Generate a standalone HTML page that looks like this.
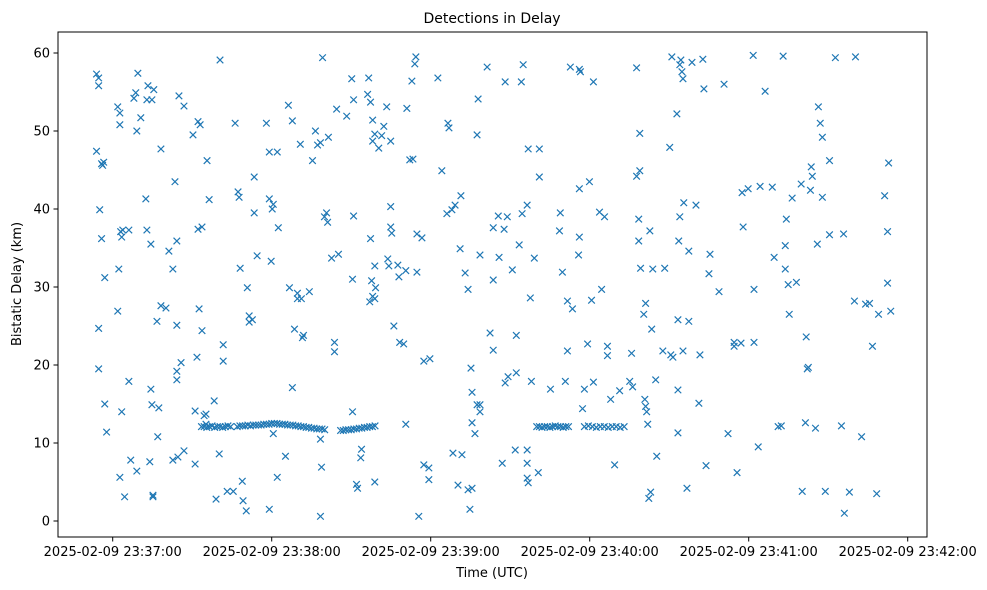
<!DOCTYPE html>
<html><head><meta charset="utf-8"><style>
body{margin:0;background:#fff;}
svg{display:block;font-family:"DejaVu Sans","Liberation Sans",sans-serif;}
</style></head><body>
<svg id="chart" width="987" height="590" viewBox="0 0 987 590">
<rect x="0" y="0" width="987" height="590" fill="#fff"/>
<text x="492" y="23" text-anchor="middle" font-size="14">Detections in Delay</text>
<g id="marks"></g>
<g id="xaxis"></g>
<g id="yaxis"></g>
<rect x="58" y="32" width="869" height="505" fill="none" stroke="#000" stroke-width="1"/>
<text x="492" y="577" text-anchor="middle" font-size="13">Time (UTC)</text>
<text transform="translate(21,284) rotate(-90)" text-anchor="middle" font-size="13">Bistatic Delay (km)</text>
</svg>
<script>
// seconds after 23:36:00 and bistatic delay (km)
const scatterTimes = [53.9,54.7,54.7,53.9,55.1,55.8,55.8,56.2,56.6,54.7,54.7,57,57,57.7,61.9,62.7,62.7,63,63.4,63.8,62.3,61.9,66.1,63.4,64.5,62.7,66.8,69.1,66.1,68,68.7,69.5,69.1,70.6,72.9,73.3,75.5,72.9,72.5,74.4,74.8,78.2,76.7,74.4,74.8,74,75.2,75.2,77,77.4,78.2,80.1,81.2,82.7,82.7,84.6,83.5,84.2,84.2,84.2,84.2,85,86.9,85.8,86.9,90.3,92.2,92.6,93,92.2,91.8,91.1,91.1,93.7,95.2,95.6,93.7,94.5,95.2,96.4,98.3,99,100.2,100.5,101.7,101.7,103.2,105.5,106.2,107.3,107.7,108.1,109.2,110.4,108.9,111.5,110.8,113.4,112.7,113.4,111.5,114.5,118,119.1,122.1,119.1,120.6,120.2,119.8,122.5,120.6,122.1,119.1,125.2,126.3,127.8,126.7,129.7,128.6,127.8,129.7,130.8,132,131.6,134.2,131.2,135.4,137.3,136.5,138.4,139.2,140.7,141.4,139.9,141.1,138.4,138.8,138.4,144.5,143.7,143.7,142.6,145.2,148.3,150.2,150.9,150.9,150.5,150.5,152,153.6,153.9,152.4,156.6,156.2,158.1,158.9,157.3,158.1,157.3,158.9,157.7,158.1,158.9,157,159.2,158.9,160.4,161.5,162.3,163.4,163.8,164.2,164.9,164.9,164.9,165.3,166.1,167.6,168,168.3,169.8,170.6,170.6,171,172.1,173.3,172.9,174.4,174,174.8,174.8,175.5,176.7,177.4,177.4,179.7,179.3,179.3,182.7,184.2,186.5,186.9,186.1,188,189.2,191.4,191.1,193,194.1,191.8,188.4,190.3,194.1,195.2,195.6,195.6,195.6,194.8,196.7,197.5,197.9,198.6,198.6,197.5,198.6,201.3,202.4,203.6,203.6,203.6,205.5,205.8,207.7,208.1,207,208.1,209.2,210.8,208.9,211.9,212.3,212.3,213.4,214.2,214.5,214.9,216.4,216.4,216.4,216.8,217.6,216.4,216.8,218,219.1,221,220.6,221,225.2,228.6,228.9,229.7,231.6,230.8,232.7,231.6,233.5,236.1,236.5,236.1,236.1,235.8,237.3,238,239.2,239.9,240.7,241.4,241.4,244.5,243.7,245.6,246.7,246.7,247.9,249.4,251.3,255.1,255.8,256.2,257.7,257.7,258.9,258.5,258.9,258.5,259.2,260.4,261.1,261.9,261.1,260.8,261.5,262.3,263,263.8,262.7,263.4,264.9,265.3,267.6,268.3,270.2,270.6,271.4,271,272.9,273.6,274,273.3,273.3,273.3,274,274.4,274.8,275.2,275.5,275.2,276.7,277.4,277.4,278.6,280.1,281.2,281.6,282.7,283.1,283.9,285.4,285,288.8,290.7,292.2,294.5,294.5,295.6,297.5,297.1,297.9,299.8,301.7,302,302,303.6,304.3,306.2,308.9,309.6,311.1,312.3,313,313.8,313.8,314.2,314.9,315.3,316.4,318,319.8,320.2,321.4,322.1,321.7,322.5,323.3,323.6,324,325.9,325.2,326.3,327,327.8,327.8,328.9,330.5,330.5,332.7,335,335.8,336.1,338,340.3,339.9,342.6,344.1,345.6,346.7,349,348.3,351.3,352.4,352.8,352.4,353.6];
const scatterDelays = [57.3,56.8,55.8,47.4,39.9,36.2,45.8,45.6,46,24.7,19.5,31.2,15,11.4,53.1,50.8,52.3,37.1,36.4,37.3,32.3,26.9,37.3,14,3.1,5.6,7.8,6.4,17.9,54.2,54.9,57.4,50,51.7,54,55.8,55.3,37.3,41.3,35.5,54,47.7,25.6,16.9,14.9,7.6,3.3,3.1,10.8,14.5,27.6,27.3,34.6,7.8,32.3,8.2,43.5,35.9,25.1,19.2,18.1,54.5,53.2,20.3,9,49.5,51.2,27.2,50.8,37.4,21,7.3,14.1,37.7,13.7,46.2,24.4,13.5,12.4,41.2,15.4,2.8,8.6,59.1,22.6,20.5,3.8,3.8,51,42.2,41.5,32.4,2.6,1.3,5.1,25.5,29.9,39.5,25.8,44.1,26.3,34,51,47.3,47.3,41.3,40.6,40,33.3,37.6,11.2,5.6,1.5,8.3,53.3,51.3,29.9,28.5,24.6,17.1,29.2,48.3,23.8,23.5,29.4,28.5,46.2,48.2,50,48.5,59.4,39.5,49.2,39,38.3,10.5,6.9,0.6,52.8,22.9,21.7,33.7,34.2,51.9,56.7,54,39.1,31,14,4.7,8.1,9.2,4.2,56.8,54.7,48.7,49.6,53.7,51.4,36.2,32.7,30.8,28.8,28.5,28.1,29.9,5,47.8,49.4,50.6,53.1,33.6,32.7,48.7,40.3,37.7,36.9,25,32.8,31.3,22.9,22.7,32.1,12.4,52.9,46.3,46.4,56.4,59.5,58.6,36.8,31.9,0.6,36.3,20.5,7.2,20.8,6.8,5.3,56.8,44.9,51,50.4,39.4,39.9,40.5,41.7,34.9,31.8,29.7,8.5,8.7,4.6,4,19.6,16.5,12.6,4.2,1.5,11.2,49.5,54.1,34.1,14,14.9,14.9,58.2,24.1,30.9,37.6,21.9,39.1,33.8,37.4,56.3,7.4,17.7,18.5,32.2,39,9.1,23.8,19,35.4,56.3,39.4,58.5,7.4,9.1,40.5,47.7,28.6,5.5,4.9,17.9,33.7,47.7,6.2,44.1,16.9,37.2,39.5,31.9,21.8,17.9,58.2,28.2,27.2,57.9,57.6,42.6,36.4,34.1,14.4,16.9,22.7,43.5,28.3,17.8,56.3,29.7,39.6,39,21.2,22.4,15.6,7.2,16.7,17.9,21.5,17.2,58.1,44.2,44.9,38.7,49.7,35.9,32.4,26.5,27.9,12.4,14.7,15.6,14,2.9,3.7,32.3,37.2,24.6,18.1,8.3,21.8,32.4,47.9,21.3,21,59.5,52.2,35.9,39,25.8,16.8,11.3,58.5,59.1,57.6,56.7,40.8,21.8,4.2,25.6,34.6,58.8,40.5,15.1,21.3,59.2,55.4,7.1,34.2,31.7,29.4,56,11.2,22.9,22.4,6.2,42.1,22.8,37.7,42.6,59.7,22.9,29.7,9.5,42.9,55.1,42.8,33.8,12.1,12.2,59.6,35.3,32.3,38.7,30.3,26.5,41.4,30.6,43.2,3.8,12.6,19.5,23.6,19.7,42.4,45.4,44.2,35.5,11.9,53.1,51,49.2,41.5,3.8,36.7,46.2,59.4,12.2,36.8,1,3.7,59.5,28.2,10.8,27.8,27.9,22.4,26.5,3.5,41.7,30.5,45.9,37.1,26.9];
// dense track near 12 km
const trackTimes = [93.5,94.5,95.5,96.5,97.5,98.5,99.5,100.5,101.5,102.5,103.5,104.5,107,108,109,110,111,112,113,114,115,116,117,118,119,120,121,122,123,124,125,126,127,128,129,130,131,132,133,134,135,136,137,138,139,140,146,147,148,149,150,151,152,153,154,155,156,157,158,159,220,221,222,223,224,225,226,227,228,229,230,231,232,238,239.5,241,242.5,244,245.5,247,248.5,250,251.5,253];
const trackDelays = [12.1,12.1,12.0,12.1,12.2,12.0,12.1,12.1,12.0,12.1,12.2,12.1,12.1,12.2,12.2,12.2,12.3,12.2,12.3,12.3,12.3,12.3,12.4,12.4,12.4,12.5,12.5,12.5,12.4,12.4,12.4,12.3,12.3,12.3,12.2,12.2,12.1,12.1,12.0,12.0,11.9,11.9,11.8,11.8,11.8,11.7,11.6,11.6,11.7,11.7,11.7,11.8,11.8,11.9,11.9,12.0,12.0,12.1,12.1,12.2,12.1,12.1,12.0,12.1,12.1,12.0,12.1,12.2,12.1,12.1,12.0,12.1,12.1,12.1,12.2,12.1,12.0,12.1,12.1,12.0,12.1,12.1,12.0,12.1];
const xTickValues = [60,120,180,240,300,360];
const xTickLabels = ["2025-02-09 23:37:00","2025-02-09 23:38:00","2025-02-09 23:39:00","2025-02-09 23:40:00","2025-02-09 23:41:00","2025-02-09 23:42:00"];
const yTickValues = [0,10,20,30,40,50,60];

const NS = "http://www.w3.org/2000/svg";
const xScale = s => 112.7 + (s - 60) * 2.65;
const yScale = d => 521 - d * 7.8;
const marks = document.getElementById('marks');
const color = "#1f77b4";
function drawX(s, d) {
  const cx = xScale(s), cy = yScale(d), r = 3.3;
  const p = document.createElementNS(NS, 'path');
  p.setAttribute('d', `M${cx-r},${cy-r}L${cx+r},${cy+r}M${cx-r},${cy+r}L${cx+r},${cy-r}`);
  p.setAttribute('stroke', color);
  p.setAttribute('stroke-width', '1.2');
  p.setAttribute('fill', 'none');
  
  
  marks.appendChild(p);
}
scatterTimes.forEach((s, i) => drawX(s, scatterDelays[i]));
trackTimes.forEach((s, i) => drawX(s, trackDelays[i]));

const xa = document.getElementById('xaxis');
xTickValues.forEach((v, i) => {
  const x = xScale(v);
  const l = document.createElementNS(NS, 'line');
  l.setAttribute('x1', x); l.setAttribute('x2', x); l.setAttribute('y1', 537); l.setAttribute('y2', 541.5);
  l.setAttribute('stroke', '#000');
  
  
  xa.appendChild(l);
  const t = document.createElementNS(NS, 'text');
  t.setAttribute('x', x); t.setAttribute('y', 556); t.setAttribute('text-anchor', 'middle'); t.setAttribute('font-size', '13');
  t.textContent = xTickLabels[i];
  
  
  xa.appendChild(t);
});
const ya = document.getElementById('yaxis');
yTickValues.forEach(v => {
  const y = yScale(v);
  const l = document.createElementNS(NS, 'line');
  l.setAttribute('x1', 53.5); l.setAttribute('x2', 58); l.setAttribute('y1', y); l.setAttribute('y2', y);
  l.setAttribute('stroke', '#000');
  
  
  ya.appendChild(l);
  const t = document.createElementNS(NS, 'text');
  t.setAttribute('x', 50); t.setAttribute('y', y + 4.5); t.setAttribute('text-anchor', 'end'); t.setAttribute('font-size', '13');
  t.textContent = v;
  
  
  ya.appendChild(t);
});
</script>
</body></html>
